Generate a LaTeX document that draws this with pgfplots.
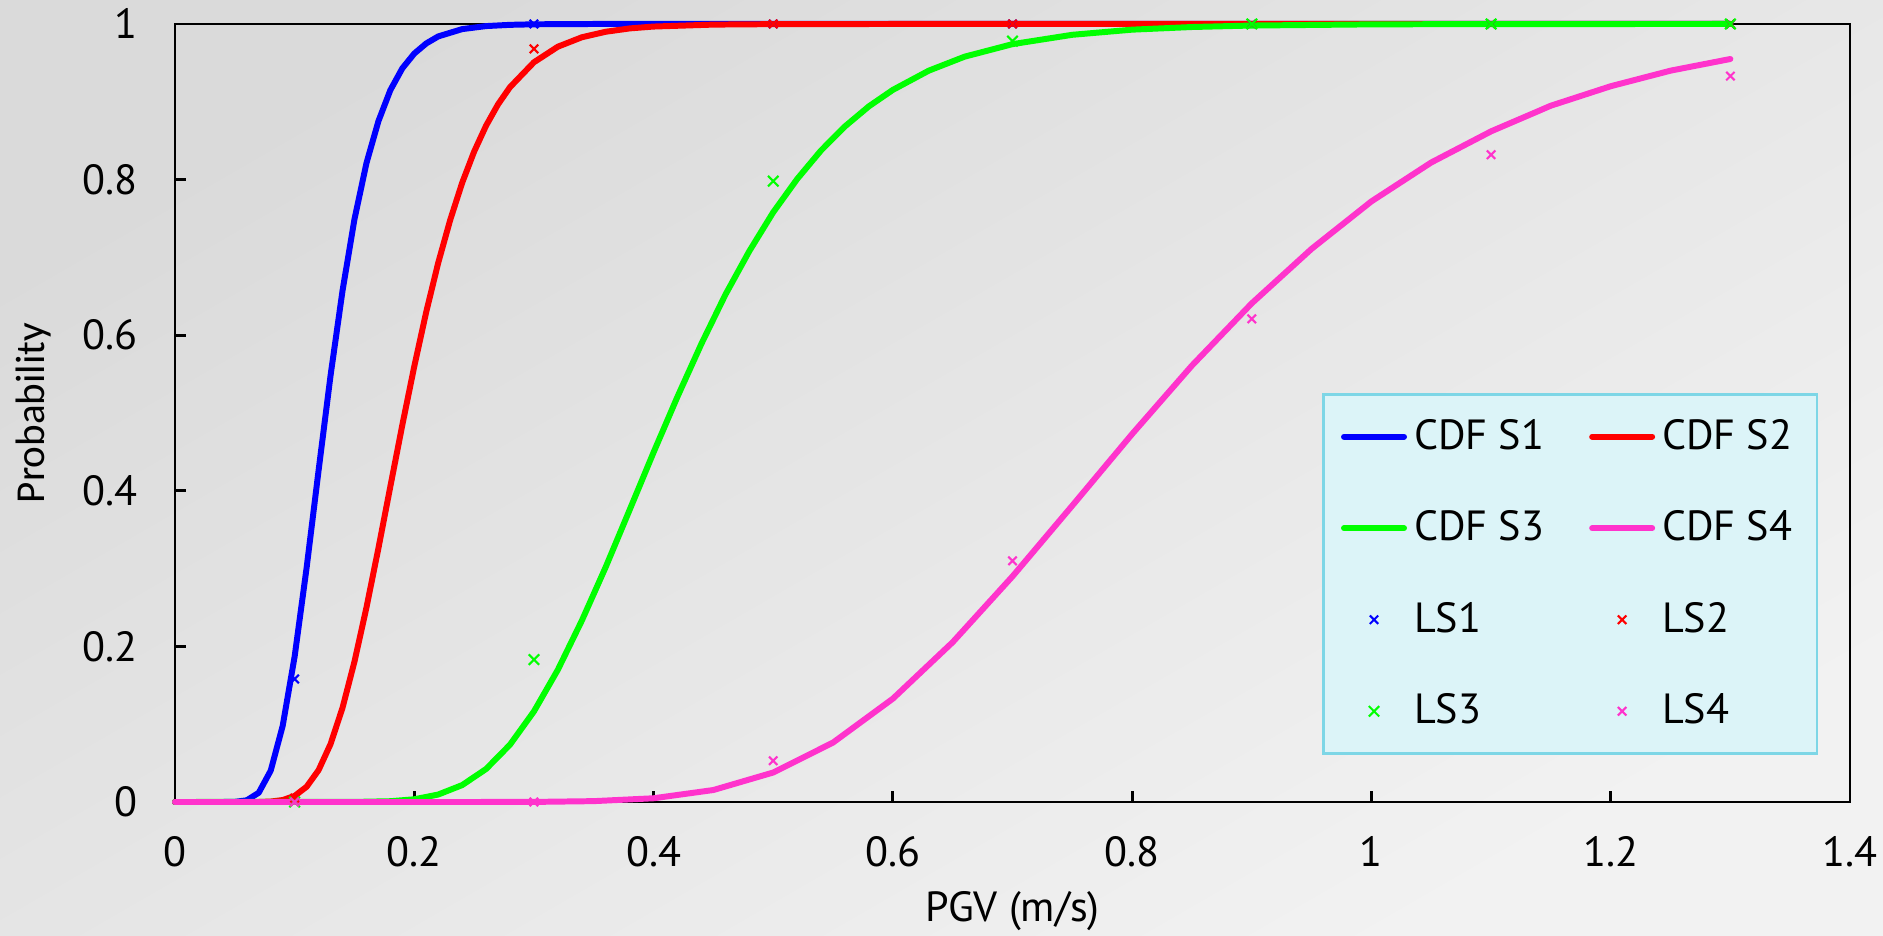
\documentclass[border=0pt]{standalone}
\usepackage{fontspec}
\setmainfont{PT Sans}
\newfontfamily\labelfont{Carlito}
\usepackage{pgfplots}
\pgfplotsset{compat=1.18}

\definecolor{sone}{RGB}{0,0,255}
\definecolor{stwo}{RGB}{255,0,0}
\definecolor{sthree}{RGB}{0,255,0}
\definecolor{sfour}{RGB}{255,51,204}
\definecolor{legfill}{RGB}{220,244,248}
\definecolor{legdraw}{RGB}{125,214,230}
\definecolor{bgdark}{RGB}{218,218,218}
\definecolor{bglight}{RGB}{242,242,242}

\begin{document}
\begin{tikzpicture}
\shade[top color=bgdark, bottom color=bglight, shading angle=30]
  (-1.75cm,-1.34cm) rectangle (17.08cm,8.02cm);
\path[use as bounding box] (-1.75cm,-1.34cm) rectangle (17.08cm,8.02cm);
\begin{axis}[
    scale only axis, width=16.75cm, height=7.78cm,
    xmin=0, xmax=1.4, ymin=0, ymax=1,
    clip=false,
    axis line style={line width=0.8pt},
    tick style={line width=0.8pt, black},
    tick align=inside, major tick length=0.11cm,
    xtick pos=left, ytick pos=left,
    xtick={0,0.2,0.4,0.6,0.8,1,1.2,1.4},
    ytick={0,0.2,0.4,0.6,0.8,1},
    /pgf/number format/assume math mode=true,
    ticklabel style={font=\fontsize{12}{14}\selectfont},
    xticklabel style={yshift=-0.22cm},
    yticklabel style={xshift=-0.25cm},
    xlabel={PGV (m/s)},
    ylabel={Probability},
    xlabel style={at={([yshift=-1.2cm]axis description cs:0.5,0)}, anchor=base,
                  font=\fontsize{12}{14}\selectfont},
    ylabel style={at={([xshift=-1.3cm]axis description cs:0,0.5)}, anchor=base,
                  font=\labelfont\fontsize{11.7}{14}\selectfont},
    legend columns=2,
    legend cell align=left,
    legend style={at={(0.6848,0.5257)}, anchor=north west,
                  fill=legfill, draw=legdraw, line width=0.8pt,
                  font=\fontsize{12}{14}\selectfont,
                  inner sep=5pt, row sep=12pt,
                  /tikz/every even column/.append style={column sep=0.38cm}},
    cdf/.style={line width=1.7pt, line cap=round, line join=round, no marks},
    ls/.style={only marks, mark=x, mark size=1.7pt, mark options={line width=0.6pt}},
]
\addplot[sone, cdf] coordinates {
 (0,0) (0.04,0) (0.05,0.0002) (0.06,0.0022) (0.07,0.0119) (0.08,0.0403)
 (0.09,0.0978) (0.10,0.187) (0.11,0.301) (0.12,0.426) (0.13,0.548)
 (0.14,0.657) (0.15,0.749) (0.16,0.821) (0.17,0.875) (0.18,0.915)
 (0.19,0.943) (0.20,0.962) (0.21,0.975) (0.22,0.984) (0.24,0.9934)
 (0.26,0.9973) (0.28,0.9989) (0.30,0.9996) (0.35,1) (1.3,1)};
\addlegendentry{CDF S1}
\addplot[stwo, cdf] coordinates {
 (0,0) (0.07,0) (0.08,0.0006) (0.09,0.0025) (0.10,0.0078) (0.11,0.0196)
 (0.12,0.0409) (0.13,0.0744) (0.14,0.121) (0.15,0.1804) (0.16,0.2498)
 (0.17,0.326) (0.18,0.4056) (0.19,0.4846) (0.20,0.560) (0.21,0.630)
 (0.22,0.693) (0.23,0.748) (0.24,0.7958) (0.25,0.8359) (0.26,0.8693)
 (0.27,0.8967) (0.28,0.9188) (0.30,0.9508) (0.32,0.9708) (0.34,0.9829)
 (0.36,0.9900) (0.38,0.9943) (0.40,0.9967) (0.45,0.9992) (0.50,0.9998)
 (0.60,1) (1.30,1)};
\addlegendentry{CDF S2}
\addplot[sthree, cdf] coordinates {
 (0,0) (0.15,0.0001) (0.18,0.0010) (0.20,0.0035) (0.22,0.0096) (0.24,0.0217)
 (0.26,0.0424) (0.28,0.0737) (0.30,0.1164) (0.32,0.170) (0.34,0.233)
 (0.36,0.302) (0.38,0.3755) (0.40,0.4494) (0.42,0.521) (0.44,0.589)
 (0.46,0.652) (0.48,0.708) (0.50,0.758) (0.52,0.8007) (0.54,0.8375)
 (0.56,0.8684) (0.58,0.8942) (0.60,0.9153) (0.63,0.940) (0.66,0.958)
 (0.70,0.9741) (0.75,0.9861) (0.80,0.9927) (0.85,0.9961) (0.90,0.998)
 (1.00,0.9995) (1.10,0.9999) (1.30,1)};
\addlegendentry{CDF S3}
\addplot[sfour, cdf] coordinates {
 (0,0) (0.25,0) (0.30,0.0001) (0.35,0.0011) (0.40,0.0048) (0.45,0.0154)
 (0.50,0.0379) (0.55,0.0764) (0.60,0.1328) (0.65,0.2054) (0.70,0.290)
 (0.75,0.381) (0.80,0.473) (0.85,0.561) (0.90,0.641) (0.95,0.711)
 (1.00,0.772) (1.05,0.822) (1.10,0.862) (1.15,0.895) (1.20,0.920)
 (1.25,0.940) (1.30,0.955)};
\addlegendentry{CDF S4}
\addplot[sone, ls] coordinates {
 (0.1,0.158) (0.3,1) (0.5,1) (0.7,1) (0.9,1) (1.1,1) (1.3,1)};
\addlegendentry{LS1}
\addplot[stwo, ls] coordinates {
 (0.1,0.005) (0.3,0.968) (0.5,1) (0.7,1) (0.9,1) (1.1,1) (1.3,1)};
\addlegendentry{LS2}
\addplot[sthree, ls, mark size=2.1pt] coordinates {
 (0.1,0) (0.3,0.183) (0.5,0.798) (0.7,0.978) (0.9,1) (1.1,1) (1.3,1)};
\addlegendentry{LS3}
\addplot[sfour, ls] coordinates {
 (0.1,0) (0.3,0) (0.5,0.053) (0.7,0.31) (0.9,0.621) (1.1,0.832) (1.3,0.933)};
\addlegendentry{LS4}
\end{axis}
\end{tikzpicture}
\end{document}
